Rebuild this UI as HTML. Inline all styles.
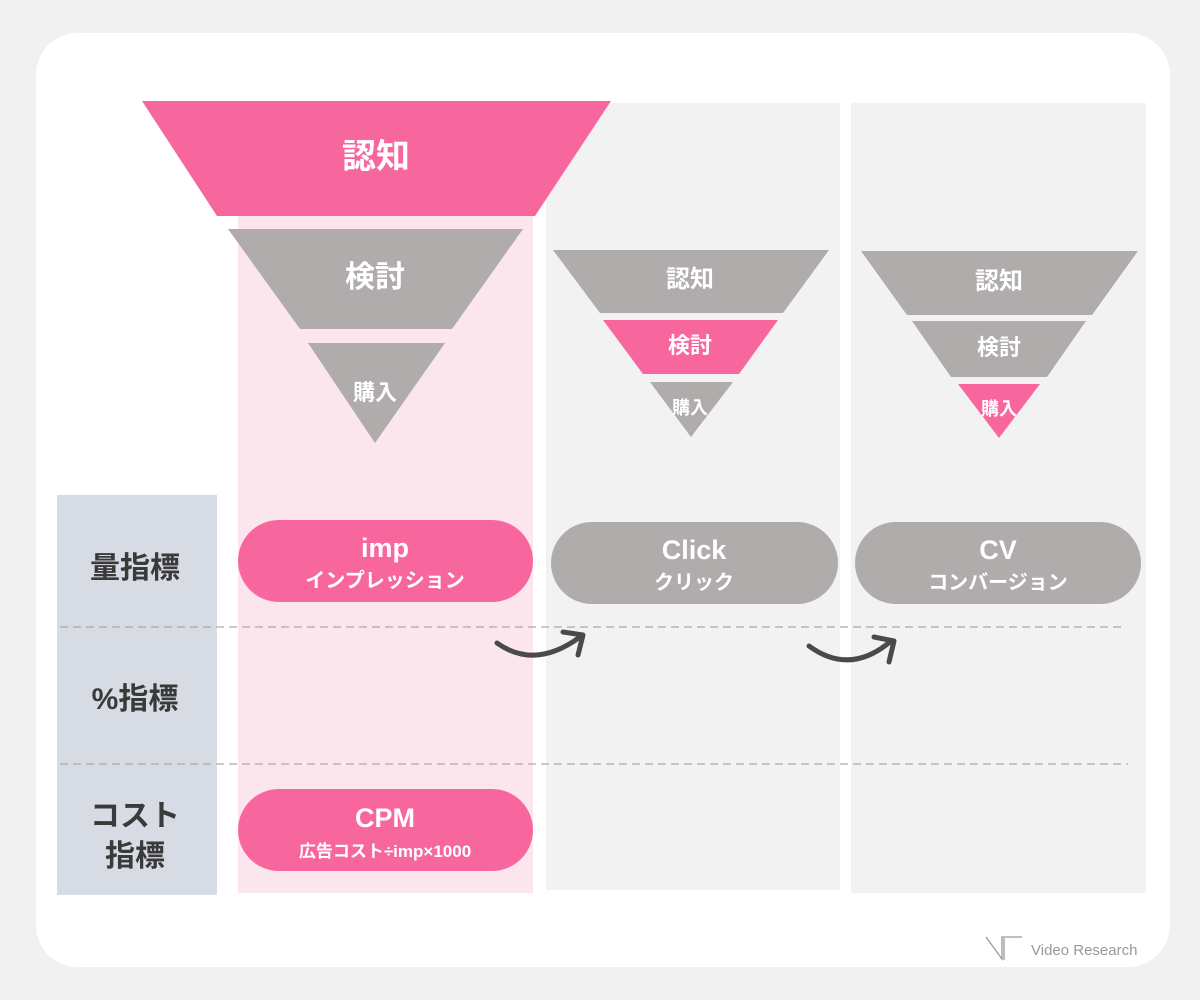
<!DOCTYPE html>
<html><head><meta charset="utf-8"><style>
body{margin:0;width:1200px;height:1000px;background:#f1f1f1;overflow:hidden;font-family:"Liberation Sans","Noto Sans CJK JP",sans-serif;}
</style></head><body>
<svg width="1200" height="1000" xmlns="http://www.w3.org/2000/svg" style="position:absolute;left:0;top:0" font-family="Liberation Sans, Noto Sans CJK JP, sans-serif" font-weight="bold">
<rect x="36" y="33" width="1134" height="934" rx="42" fill="#fff"/>
<rect x="238" y="215" width="295" height="678" fill="#fce6ee"/>
<rect x="546" y="103" width="294" height="787" fill="#f2f2f2"/>
<rect x="851" y="103" width="295" height="790" fill="#f2f2f2"/>
<rect x="57" y="495" width="160" height="400" fill="#d6dbe4"/>
<g fill="#3a3a3a" font-size="30" text-anchor="middle">
<text x="135" y="578">量指標</text>
<text x="135" y="709">%指標</text>
<text x="135" y="826">コスト</text>
<text x="135" y="866">指標</text>
</g>
<polygon points="142,101 611,101 535,216 217,216" fill="#f7679e"/>
<polygon points="228,229 523,229 452,329 300,329" fill="#b0acab"/>
<polygon points="308,343 445,343 375,443" fill="#b0acab"/>
<g fill="#fff" text-anchor="middle">
<text x="376" y="168" font-size="34">認知</text>
<text x="375" y="287" font-size="30">検討</text>
<text x="375" y="400" font-size="22">購入</text>
</g>
<polygon points="553,250 829,250 783,313 600,313" fill="#b0acab"/>
<polygon points="603,320 778,320 739,374 643,374" fill="#f7679e"/>
<polygon points="650,382 733,382 691,437" fill="#b0acab"/>
<g fill="#fff" text-anchor="middle">
<text x="690" y="287" font-size="24">認知</text>
<text x="690" y="353" font-size="22">検討</text>
<text x="690" y="414" font-size="18">購入</text>
</g>
<polygon points="861,251 1138,251 1092,315 907,315" fill="#b0acab"/>
<polygon points="912,321 1086,321 1047,377 951,377" fill="#b0acab"/>
<polygon points="958,384 1040,384 999,438" fill="#f7679e"/>
<g fill="#fff" text-anchor="middle">
<text x="999" y="289" font-size="24">認知</text>
<text x="999" y="355" font-size="22">検討</text>
<text x="999" y="415" font-size="18">購入</text>
</g>
<rect x="238" y="520" width="295" height="82" rx="41" fill="#f7679e"/>
<rect x="551" y="522" width="287" height="82" rx="41" fill="#b0acab"/>
<rect x="855" y="522" width="286" height="82" rx="41" fill="#b0acab"/>
<rect x="238" y="789" width="295" height="82" rx="41" fill="#f7679e"/>
<g fill="#fff" text-anchor="middle">
<text x="385" y="557" font-size="27">imp</text>
<text x="385" y="587" font-size="20">インプレッション</text>
<text x="694" y="559" font-size="27">Click</text>
<text x="694" y="589" font-size="20">クリック</text>
<text x="998" y="559" font-size="27">CV</text>
<text x="998" y="589" font-size="20">コンバージョン</text>
<text x="385" y="827" font-size="27">CPM</text>
<text x="385" y="857" font-size="17">広告コスト÷imp×1000</text>
</g>
<line x1="60" y1="627" x2="1125" y2="627" stroke="#aaa" stroke-dasharray="8,5" stroke-width="1.3"/>
<line x1="60" y1="764" x2="1128" y2="764" stroke="#aaa" stroke-dasharray="8,5" stroke-width="1.3"/>
<g fill="none" stroke="#4a4a4a" stroke-width="5" stroke-linecap="round" stroke-linejoin="round">
<path d="M497,643 Q535,670 580,637"/>
<path d="M563,632 L583,635 L578,655"/>
<path d="M809,646 Q850,676 891,641"/>
<path d="M874,637 L894,641 L889,662"/>
</g>
<g stroke="#999" stroke-width="1.3" fill="none">
<path d="M986,937 L1002,959 L1002,937 L1022,937"/><path d="M1004,938 L1004,960"/>
</g>
<text x="1031" y="955" font-size="15" font-weight="normal" fill="#999">Video Research</text>
</svg>
</body></html>
